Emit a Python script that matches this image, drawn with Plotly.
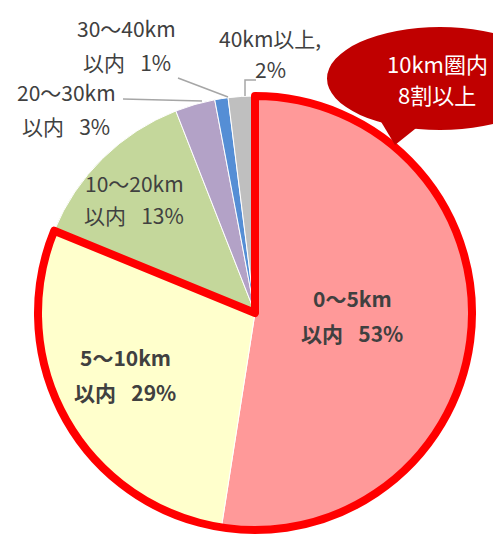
import plotly.graph_objects as go

# ---- data ----
categories = ["0～5km以内", "5～10km以内", "10～20km以内", "20～30km以内", "30～40km以内", "40km以上"]
shares = [53, 29, 13, 3, 1, 2]
label_line1 = ["0～5km", "5～10km", "10～20km", "20～30km", "30～40km", "40km以上,"]
label_prefix = ["以内\u2002\u00a0", "以内\u2002\u00a0", "以内\u2002\u00a0",
                "以内\u2002\u00a0", "以内\u2002\u00a0", ""]
callout_lines = ["10km圏内", "8割以上"]
within_10km_count = 2  # first two categories are within 10km

# ---- style ----
W, H = 493, 536
colors = ["#FF9999", "#FFFFCC", "#C4D79B", "#B3A2C7", "#558ED5", "#BFBFBF"]
TEXT = "#404040"
FONT = "Noto Sans CJK JP"
bold = [True, True, False, False, False, False]
# label centers in pixels (x, line1 y, line2 y)
label_pos = [(352, 298, 333), (125, 357, 392), (134, 183, 215),
             (66, 92, 126), (127, 28, 62), (270, 38, 69)]
cx, cy, r = 255, 313, 217


def X(px):
    return px / W


def Y(py):
    return 1 - py / H


dom = dict(x=[X(cx - r), X(cx + r)], y=[Y(cy + r), Y(cy - r)])

fig = go.Figure()
fig.add_trace(go.Pie(
    labels=categories, values=shares, sort=False, direction="clockwise", rotation=0,
    marker=dict(colors=colors, line=dict(color="white", width=1)),
    textinfo="none", hoverinfo="label+percent", domain=dom, showlegend=False,
))
inner = sum(shares[:within_10km_count])
outer = sum(shares[within_10km_count:])
fig.add_trace(go.Pie(
    labels=["10km以内", "10km超"], values=[inner, outer], sort=False, direction="clockwise",
    rotation=0,
    marker=dict(colors=["rgba(0,0,0,0)", "rgba(0,0,0,0)"],
                line=dict(color=["#FF0000", "rgba(0,0,0,0)"], width=[8, 0])),
    textinfo="none", hoverinfo="skip", domain=dom, showlegend=False,
))

annotations = []
for i, s in enumerate(shares):
    x, y1, y2 = label_pos[i]
    l1 = label_line1[i]
    l2 = f"{label_prefix[i]}{s}%"
    if bold[i]:
        l1, l2 = f"<b>{l1}</b>", f"<b>{l2}</b>"
    for t, yy in ((l1, y1), (l2, y2)):
        annotations.append(dict(text=t, x=X(x), y=Y(yy), xref="paper", yref="paper",
                                showarrow=False, xanchor="center", yanchor="middle",
                                borderpad=0,
                                font=dict(family=FONT, size=21, color=TEXT)))

for t, yy in zip(callout_lines, (63, 94)):
    annotations.append(dict(text=t, x=X(437), y=Y(yy), xref="paper", yref="paper",
                            showarrow=False, xanchor="center", yanchor="middle",
                            borderpad=0,
                            font=dict(family=FONT, size=22, color="white")))

LINE = dict(color="#A6A6A6", width=1.5)
shapes = [
    # leader lines
    dict(type="path", xref="paper", yref="paper",
         path=f"M {X(123)} {Y(99)} L {X(202)} {Y(101)}", line=LINE),
    dict(type="path", xref="paper", yref="paper",
         path=f"M {X(178)} {Y(78)} L {X(228)} {Y(97)}", line=LINE),
    dict(type="path", xref="paper", yref="paper",
         path=f"M {X(256)} {Y(80)} L {X(245)} {Y(80)} L {X(245)} {Y(96)}", line=LINE),
    # callout bubble
    dict(type="circle", xref="paper", yref="paper", layer="above",
         x0=X(327), x1=X(553), y0=Y(130), y1=Y(27),
         fillcolor="#C00000", line=dict(width=0)),
    dict(type="path", xref="paper", yref="paper", layer="above",
         path=f"M {X(380)} {Y(120)} L {X(395)} {Y(145)} L {X(420)} {Y(125)} Z",
         fillcolor="#C00000", line=dict(width=0)),
]

fig.update_layout(
    width=W, height=H, margin=dict(l=0, r=0, t=0, b=0),
    paper_bgcolor="white", plot_bgcolor="white",
    annotations=annotations, shapes=shapes, showlegend=False,
)
fig.write_html("out.html", config={"displayModeBar": False},
               post_script="document.body.style.margin='0';")
